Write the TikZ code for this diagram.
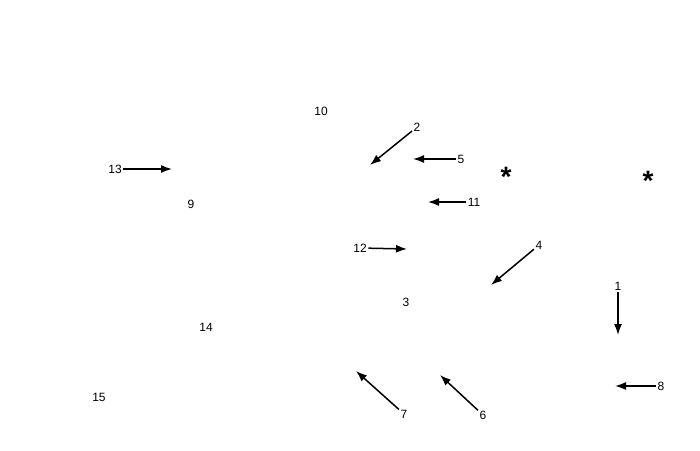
\documentclass[tikz,border=0pt]{standalone}
\usepackage{fontspec}
\setmainfont{Liberation Sans}
\usetikzlibrary{arrows.meta}
\tikzset{
  lbl/.style={inner sep=1.5pt,font=\fontsize{12}{14}\selectfont},
  star/.style={inner sep=0pt,font=\bfseries\fontsize{28}{28}\selectfont},
  pointer/.style={-{Latex[length=11pt,width=8pt]},line width=1.5pt}
}
\begin{document}
\begin{tikzpicture}[x=1pt,y=-1pt]
	\useasboundingbox (0,0) rectangle (700,450);
	% plain labels
	\node[lbl] (l10) at (321,111) {10};
	\node[lbl] (l9) at (191,204) {9};
	\node[lbl] (l3) at (406,302) {3};
	\node[lbl] (l14) at (206,327) {14};
	\node[lbl] (l15) at (99,397) {15};
	\node[star] (s1) at (506,177) {*};
	\node[star] (s2) at (648,181) {*};
	% labels with pointers
	\node[lbl] (l2) at (417,127) {2};
	\coordinate (t2) at (370,165);
	\node[lbl] (l5) at (461,159) {5};
	\coordinate (t5) at (413,159);
	\node[lbl] (l11) at (474,202) {11};
	\coordinate (t11) at (428,202);
	\node[lbl] (l12) at (360,248) {12};
	\coordinate (t12) at (407,249);
	\node[lbl] (l13) at (115,169) {13};
	\coordinate (t13) at (172,169);
	\node[lbl] (l4) at (539,245) {4};
	\coordinate (t4) at (491,285);
	\node[lbl] (l1) at (618,286) {1};
	\coordinate (t1) at (618,335);
	\node[lbl] (l8) at (661,386) {8};
	\coordinate (t8) at (615,386);
	\node[lbl] (l7) at (404,414) {7};
	\coordinate (t7) at (356,371);
	\node[lbl] (l6) at (483,415) {6};
	\coordinate (t6) at (440,375);
	\foreach \n in {2,5,11,12,13,4,1,8,7,6}
		\draw[pointer] (l\n) -- (t\n);
\end{tikzpicture}
\end{document}
